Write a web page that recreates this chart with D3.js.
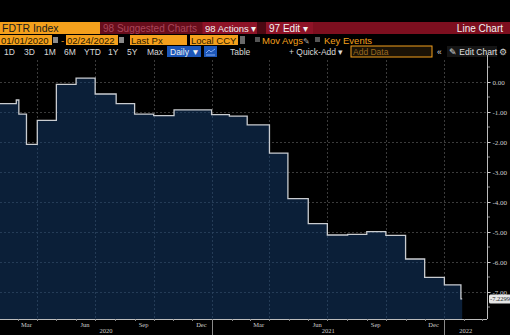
<!DOCTYPE html>
<html>
<head>
<meta charset="utf-8">
<script src="https://cdn.jsdelivr.net/npm/d3@7"></script>
<style>
  html, body { margin: 0; padding: 0; background: #000; }
  svg { display: block; font-family: "Liberation Sans", Arial, sans-serif; }
</style>
</head>
<body>
<svg id="chart" width="510" height="335"></svg>
<script>
// FDTR Index — step series (Last Px, daily)
const stepDates = [
  "2020-01-01", "2020-02-28", "2020-03-03", "2020-03-15", "2020-04-01",
  "2020-05-01", "2020-06-01", "2020-07-01", "2020-08-03", "2020-09-01",
  "2020-10-01", "2020-11-02", "2020-12-31", "2021-01-28", "2021-02-25",
  "2021-04-01", "2021-04-30", "2021-06-01", "2021-07-01", "2021-08-02",
  "2021-09-01", "2021-10-01", "2021-11-01", "2021-12-01", "2022-01-01",
  "2022-01-27", "2022-01-29"
];
const stepValues = [
  -0.72, -0.60, -1.07, -2.08, -1.28,
  -0.08, 0.13, -0.40, -0.72, -1.07,
  -1.12, -0.93, -1.09, -1.14, -1.43,
  -2.37, -3.89, -4.72, -5.10, -5.08,
  -4.99, -5.11, -5.90, -6.51, -6.76,
  -7.2299, -7.2299
];
const yTickValues = [0, -1, -2, -3, -4, -5, -6, -7];
const monthLabels = ["Mar", "Jun", "Sep", "Dec"];
const yearLabels = ["2020", "2021", "2022"];
const lastValueLabel = "-7.2299";

const parse = d3.timeParse("%Y-%m-%d");
const data = stepDates.map((d, i) => ({ date: parse(d), value: stepValues[i] }));

const svg = d3.select("#chart");
svg.append("rect").attr("width", 510).attr("height", 335).attr("fill", "#000");

// ---------- toolbar ----------
const orange = "#f4a01c", darkRed = "#7d0f1f", redBtn = "#8e1327";
const bar = svg.append("g");
// row 1
bar.append("rect").attr("x", 0).attr("y", 22).attr("width", 510).attr("height", 12).attr("fill", darkRed);
bar.append("rect").attr("x", 0).attr("y", 22).attr("width", 100).attr("height", 12).attr("fill", orange);
bar.append("text").attr("x", 2).attr("y", 31.5).attr("font-size", 10.5).attr("fill", "#1b1b1b").text("FDTR Index");
bar.append("rect").attr("x", 100).attr("y", 22).attr("width", 102).attr("height", 12).attr("fill", "#680d1b");
bar.append("text").attr("x", 103).attr("y", 31.5).attr("font-size", 10).attr("fill", "#a9465a").text("98 Suggested Charts");
bar.append("rect").attr("x", 203).attr("y", 22).attr("width", 54).attr("height", 12).attr("fill", redBtn);
bar.append("text").attr("x", 205).attr("y", 31.5).attr("font-size", 9.5).attr("fill", "#f2f2f2").text("98 Actions \u25BE");
bar.append("rect").attr("x", 257).attr("y", 22).attr("width", 9).attr("height", 12).attr("fill", "#4a0812");
bar.append("rect").attr("x", 266).attr("y", 22).attr("width", 47).attr("height", 12).attr("fill", redBtn);
bar.append("text").attr("x", 269).attr("y", 31.5).attr("font-size", 10).attr("fill", "#f2f2f2").text("97 Edit \u25BE");
bar.append("text").attr("x", 503).attr("y", 31.5).attr("font-size", 10).attr("text-anchor", "end").attr("fill", "#f2f2f2").text("Line Chart");

// row 2
function field(x, w, label, color) {
  bar.append("rect").attr("x", x).attr("y", 35).attr("width", w).attr("height", 10).attr("fill", orange);
  bar.append("text").attr("x", x + 1).attr("y", 43.5).attr("font-size", 9.5).attr("fill", color || "#2a1a00").text(label);
}
field(0, 52, "01/01/2020");
bar.append("rect").attr("x", 53).attr("y", 37).attr("width", 5).attr("height", 6).attr("fill", "#8a8a8a");
bar.append("text").attr("x", 61).attr("y", 43.5).attr("font-size", 9.5).attr("fill", orange).text("-");
field(66, 52, "02/24/2022");
bar.append("rect").attr("x", 119).attr("y", 37).attr("width", 5).attr("height", 6).attr("fill", "#8a8a8a");
field(130, 57, "Last Px");
field(190, 48, "Local CCY");
bar.append("rect").attr("x", 240).attr("y", 36).attr("width", 5).attr("height", 8).attr("fill", "#6a6a6a");
bar.append("rect").attr("x", 255).attr("y", 37).attr("width", 5).attr("height", 5).attr("fill", "#555");
bar.append("text").attr("x", 262).attr("y", 43.5).attr("font-size", 9.5).attr("fill", orange).text("Mov Avgs");
bar.append("text").attr("x", 303).attr("y", 43.5).attr("font-size", 8).attr("fill", "#aaa").text("\u270E");
bar.append("rect").attr("x", 315).attr("y", 37).attr("width", 5).attr("height", 5).attr("fill", "#555");
bar.append("text").attr("x", 324).attr("y", 43.5).attr("font-size", 9.5).attr("fill", orange).text("Key Events");

// row 3
const ranges = [["1D", 4], ["3D", 24], ["1M", 44], ["6M", 64], ["YTD", 84], ["1Y", 108], ["5Y", 127], ["Max", 147]];
ranges.forEach(([t, x]) => {
  bar.append("text").attr("x", x).attr("y", 54.5).attr("font-size", 8.5).attr("fill", "#d9d9d9").text(t);
});
bar.append("rect").attr("x", 167).attr("y", 46).attr("width", 34).attr("height", 11).attr("fill", "#1d57b8");
bar.append("text").attr("x", 170).attr("y", 54.5).attr("font-size", 8.5).attr("fill", "#f0f0f0").text("Daily \u25BC");
bar.append("rect").attr("x", 204).attr("y", 46).attr("width", 13).attr("height", 11).attr("fill", "#1d57b8");
bar.append("path").attr("d", "M206,53 L209,50 L211,52 L215,49 M206,55 L215,55").attr("stroke", "#9fc0ff").attr("stroke-width", 0.8).attr("fill", "none");
bar.append("text").attr("x", 230).attr("y", 54.5).attr("font-size", 8.5).attr("fill", "#d9d9d9").text("Table");
bar.append("text").attr("x", 289).attr("y", 54.5).attr("font-size", 8.5).attr("fill", "#d9d9d9").text("+ Quick-Add \u25BE");
bar.append("rect").attr("x", 351).attr("y", 46).attr("width", 81).attr("height", 11).attr("fill", "#1a1206").attr("stroke", orange).attr("stroke-width", 1);
bar.append("text").attr("x", 353).attr("y", 54.5).attr("font-size", 8.5).attr("fill", "#9a6a20").text("Add Data");
bar.append("text").attr("x", 437).attr("y", 54.5).attr("font-size", 8.5).attr("fill", "#d9d9d9").text("\u00AB");
bar.append("rect").attr("x", 447).attr("y", 46).attr("width", 50).attr("height", 11).attr("fill", "#151515");
bar.append("text").attr("x", 449).attr("y", 54.5).attr("font-size", 8.5).attr("fill", "#e0e0e0").text("\u270E Edit Chart");
bar.append("text").attr("x", 499).attr("y", 55).attr("font-size", 9).attr("fill", "#d0d0d0").text("\u2699");

// ---------- plot ----------
const plotTop = 60, plotBottom = 319, plotRight = 487;
const x = d3.scaleTime()
  .domain([new Date(2020, 0, 1), new Date(2022, 2, 9)])
  .range([-20.6, plotRight]);
const y = d3.scaleLinear()
  .domain([0, -7])
  .range([82, 292]);

const plot = svg.append("g");
const gridColor = "#4a4a4a";

// horizontal grid
plot.selectAll(".hgrid").data(yTickValues).join("line")
  .attr("x1", 0).attr("x2", plotRight)
  .attr("y1", d => Math.round(y(d)) + 0.5).attr("y2", d => Math.round(y(d)) + 0.5)
  .attr("stroke", gridColor).attr("stroke-width", 0.8).attr("stroke-dasharray", "2,2");

// vertical grid at quarter starts
const quarterStarts = d3.timeMonth.range(new Date(2020, 1, 1), new Date(2022, 2, 9), 1)
  .filter(d => d.getMonth() % 3 === 0);
plot.selectAll(".vgrid").data(quarterStarts).join("line")
  .attr("x1", d => Math.round(x(d)) + 0.5).attr("x2", d => Math.round(x(d)) + 0.5)
  .attr("y1", plotTop).attr("y2", plotBottom)
  .attr("stroke", gridColor).attr("stroke-width", 0.8).attr("stroke-dasharray", "2,2");

// area + line
const area = d3.area().x(d => x(d.date)).y0(plotBottom).y1(d => y(d.value)).curve(d3.curveStepAfter);
const line = d3.line().x(d => x(d.date)).y(d => y(d.value)).curve(d3.curveStepAfter);
plot.append("path").datum(data).attr("d", area).attr("fill", "#0b1f38");

// grid shows faintly over the fill
svg.append("defs").append("clipPath").attr("id", "areaClip")
  .append("path").datum(data).attr("d", area);
const inner = plot.append("g").attr("clip-path", "url(#areaClip)");
inner.selectAll(".hgrid2").data(yTickValues).join("line")
  .attr("x1", 0).attr("x2", plotRight)
  .attr("y1", d => Math.round(y(d)) + 0.5).attr("y2", d => Math.round(y(d)) + 0.5)
  .attr("stroke", "#2c4460").attr("stroke-width", 0.8).attr("stroke-dasharray", "2,2");
inner.selectAll(".vgrid2").data(quarterStarts).join("line")
  .attr("x1", d => Math.round(x(d)) + 0.5).attr("x2", d => Math.round(x(d)) + 0.5)
  .attr("y1", plotTop).attr("y2", plotBottom)
  .attr("stroke", "#2c4460").attr("stroke-width", 0.8).attr("stroke-dasharray", "2,2");

plot.append("path").datum(data).attr("d", line)
  .attr("fill", "none").attr("stroke", "#c9ccd0").attr("stroke-width", 1.3);

// right axis
plot.append("line").attr("x1", plotRight + 0.5).attr("x2", plotRight + 0.5)
  .attr("y1", plotTop - 5).attr("y2", plotBottom).attr("stroke", "#bdbdbd").attr("stroke-width", 1);
const fmt2 = v => (v < 0 ? "-" : "") + Math.abs(v).toFixed(2);
const yAxis = d3.axisRight(y).tickValues(yTickValues).tickSize(3).tickPadding(2).tickFormat(fmt2);
const yAxisG = plot.append("g").attr("transform", `translate(${plotRight + 0.5},0)`).call(yAxis);
yAxisG.select(".domain").remove();
yAxisG.selectAll("line").attr("stroke", "#cfcfcf");
yAxisG.selectAll("text").attr("fill", "#cfcfcf").attr("font-size", 7).attr("font-family", "Liberation Serif, serif");
// minor ticks between units
const minor = d3.range(0.5, -8, -1);
plot.selectAll(".ymin").data(minor.filter(v => y(v) > plotTop && y(v) < plotBottom)).join("line")
  .attr("x1", plotRight + 1).attr("x2", plotRight + 3)
  .attr("y1", d => y(d)).attr("y2", d => y(d))
  .attr("stroke", "#8a8a8a");

// last value tag
const last = data[data.length - 1];
const tagY = y(last.value);
plot.append("rect").attr("x", 489).attr("y", tagY - 4.5).attr("width", 24).attr("height", 9).attr("rx", 1.5).attr("fill", "#e6e6e6");
plot.append("text").attr("x", 490).attr("y", tagY + 2.5).attr("font-size", 6.5)
  .attr("font-family", "Liberation Serif, serif").attr("fill", "#222").text(lastValueLabel);

// bottom axis
plot.append("line").attr("x1", 0).attr("x2", plotRight).attr("y1", plotBottom + 0.5).attr("y2", plotBottom + 0.5)
  .attr("stroke", "#bdbdbd").attr("stroke-width", 1);
const monthTicks = d3.timeMonth.range(new Date(2020, 0, 1), new Date(2022, 2, 9));
plot.selectAll(".xmin").data(monthTicks).join("line")
  .attr("x1", d => Math.round(x(d)) + 0.5).attr("x2", d => Math.round(x(d)) + 0.5)
  .attr("y1", plotBottom).attr("y2", plotBottom + 2).attr("stroke", "#8a8a8a");

// month labels, centred mid-month
const fmtMonth = d3.timeFormat("%b");
const labelMonths = monthTicks.filter(d => monthLabels.includes(fmtMonth(d)) && x(d3.timeDay.offset(d, 14)) < plotRight - 10);
plot.selectAll(".mlab").data(labelMonths).join("text")
  .attr("x", d => x(d3.timeDay.offset(d, 14)))
  .attr("y", 326.5).attr("text-anchor", "middle").attr("font-size", 6.5)
  .attr("font-family", "Liberation Serif, serif").attr("fill", "#cfcfcf")
  .text(d => fmtMonth(d));

// year labels centred over each year's visible span
const years = yearLabels.map(t => {
  const start = Math.max(0, x(new Date(+t, 0, 1)));
  const end = Math.min(plotRight, x(new Date(+t + 1, 0, 1)));
  return { t, cx: (start + end) / 2 };
});
plot.selectAll(".ylab").data(years).join("text")
  .attr("x", d => d.cx).attr("y", 332.5).attr("text-anchor", "middle").attr("font-size", 6.5)
  .attr("font-family", "Liberation Serif, serif").attr("fill", "#cfcfcf").text(d => d.t);
// year separators
plot.selectAll(".ysep").data([new Date(2021, 0, 1), new Date(2022, 0, 1)]).join("line")
  .attr("x1", d => Math.round(x(d)) + 0.5).attr("x2", d => Math.round(x(d)) + 0.5)
  .attr("y1", plotBottom + 1).attr("y2", 335).attr("stroke", "#8a8a8a");
</script>
</body>
</html>
